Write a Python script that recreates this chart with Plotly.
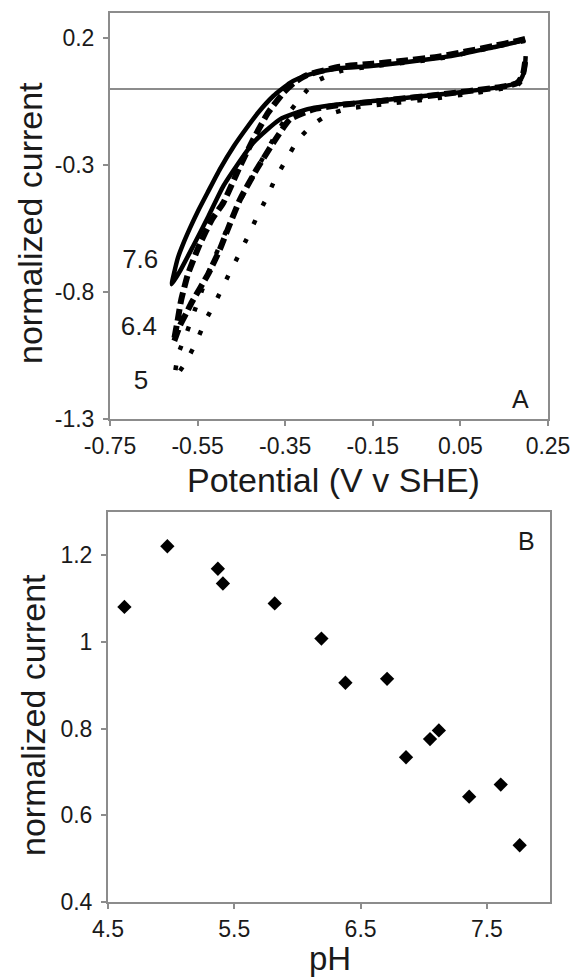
import plotly.graph_objects as go

W, H = 580, 979

# ---------------- Panel A data (cyclic voltammograms) ----------------
# path: upper branch (right -> left), down to the switching tip, then lower branch back to the right
E_76 = [0.197, 0.18, 0.125, 0.05, 0.0, -0.08, -0.16, -0.225, -0.28, -0.32, -0.339, -0.377, -0.412, -0.441,
        -0.467, -0.499, -0.527, -0.549, -0.568, -0.583, -0.595, -0.603, -0.609,
        -0.588, -0.56, -0.525, -0.491, -0.423, -0.362, -0.301, -0.225, -0.15, -0.05, 0.05, 0.14, 0.175,
        0.19, 0.197, 0.199]
I_76 = [0.196, 0.186, 0.165, 0.137, 0.123, 0.105, 0.09, 0.082, 0.065, 0.042, 0.025, -0.027, -0.093, -0.16,
        -0.224, -0.315, -0.407, -0.48, -0.55, -0.61, -0.665, -0.72, -0.769,
        -0.71, -0.618, -0.5, -0.381, -0.211, -0.119, -0.08, -0.06, -0.047, -0.03, -0.012, 0.008, 0.022,
        0.045, 0.085, 0.13]

E_64 = [0.198, 0.18, 0.125, 0.0, -0.08, -0.15, -0.225, -0.301, -0.33, -0.354, -0.389, -0.423, -0.453, -0.491,
        -0.517, -0.545, -0.572, -0.588, -0.595, -0.604,
        -0.59, -0.575, -0.563, -0.526, -0.499, -0.484, -0.453, -0.415, -0.377, -0.339, -0.286, -0.225,
        -0.15, 0.0, 0.14, 0.18, 0.193, 0.198]
I_64 = [0.198, 0.19, 0.17, 0.128, 0.112, 0.1, 0.088, 0.055, 0.025, -0.014, -0.093, -0.198, -0.303, -0.447,
        -0.513, -0.611, -0.729, -0.835, -0.906, -0.995,
        -0.93, -0.88, -0.839, -0.729, -0.631, -0.565, -0.434, -0.316, -0.211, -0.119, -0.08, -0.063,
        -0.05, -0.022, 0.008, 0.024, 0.06, 0.11]

E_5 = [0.198, 0.125, 0.0, -0.15, -0.225, -0.28, -0.305, -0.34, -0.375, -0.41, -0.45, -0.485, -0.52, -0.55,
       -0.575, -0.594, -0.602,
       -0.575, -0.552, -0.531, -0.506, -0.484, -0.461, -0.438, -0.417, -0.394, -0.373, -0.347, -0.32,
       -0.286, -0.25, -0.2, -0.1, 0.0, 0.14, 0.18, 0.195]
I_5 = [0.19, 0.165, 0.12, 0.09, 0.07, 0.03, -0.014, -0.09, -0.19, -0.3, -0.43, -0.56, -0.7, -0.84,
       -0.96, -1.044, -1.136,
       -1.07, -0.992, -0.909, -0.828, -0.749, -0.67, -0.591, -0.513, -0.434, -0.355, -0.276, -0.198,
       -0.139, -0.1, -0.075, -0.055, -0.035, 0.0, 0.015, 0.045]

curve_labels = ["7.6", "6.4", "5"]
label_E = [-0.681, -0.684, -0.679]
label_I = [-0.680, -0.942, -1.158]

xticks_A = [-0.75, -0.55, -0.35, -0.15, 0.05, 0.25]
xticktext_A = ["-0.75", "-0.55", "-0.35", "-0.15", "0.05", "0.25"]
yticks_A = [0.2, -0.3, -0.8, -1.3]
yticktext_A = ["0.2", "-0.3", "-0.8", "-1.3"]

# ---------------- Panel B data ----------------
pH = [4.63, 4.97, 5.37, 5.41, 5.82, 6.19, 6.38, 6.71, 6.86, 7.05, 7.12, 7.36, 7.61, 7.76]
current_B = [1.081, 1.221, 1.169, 1.135, 1.089, 1.008, 0.906, 0.915, 0.734, 0.776, 0.796, 0.643, 0.671, 0.531]
xticks_B = [4.5, 5.5, 6.5, 7.5]
xticktext_B = ["4.5", "5.5", "6.5", "7.5"]
yticks_B = [0.4, 0.6, 0.8, 1.0, 1.2]
yticktext_B = ["0.4", "0.6", "0.8", "1", "1.2"]


def px(x):
    return x / W


def py(y):
    return 1 - y / H


FONT = "Liberation Sans, Arial, sans-serif"
TXT = "#1a1a1a"
FRAME = "#8c8c8c"

fig = go.Figure()

fig.add_trace(go.Scatter(x=E_76, y=I_76, mode="lines", xaxis="x", yaxis="y",
                         line=dict(color="black", width=4.5, shape="spline", smoothing=0.5),
                         showlegend=False))
fig.add_trace(go.Scatter(x=E_64, y=I_64, mode="lines", xaxis="x", yaxis="y",
                         line=dict(color="black", width=6, dash="12px,5px", shape="spline", smoothing=0.5),
                         showlegend=False))
fig.add_trace(go.Scatter(x=E_5, y=I_5, mode="lines", xaxis="x", yaxis="y",
                         line=dict(color="black", width=4.5, dash="4.5px,16px", shape="spline", smoothing=0.5),
                         showlegend=False))
fig.add_trace(go.Scatter(x=label_E, y=label_I, mode="text", text=curve_labels, xaxis="x", yaxis="y",
                         textfont=dict(family=FONT, size=26, color=TXT), showlegend=False))

fig.add_trace(go.Scatter(x=pH, y=current_B, mode="markers", xaxis="x2", yaxis="y2",
                         marker=dict(symbol="diamond", size=11, color="black"), showlegend=False))

axis_common = dict(showline=True, linecolor=FRAME, linewidth=2, mirror=True, showgrid=False,
                   ticks="outside", ticklen=5, tickwidth=2, tickcolor=FRAME,
                   tickfont=dict(family=FONT, size=23, color=TXT))

fig.update_layout(
    width=W, height=H,
    margin=dict(l=0, r=0, t=0, b=0, autoexpand=False),
    paper_bgcolor="white", plot_bgcolor="white",
    xaxis=dict(domain=[px(110), px(548)], range=[-0.75, 0.25], tickvals=xticks_A,
               ticktext=xticktext_A, zeroline=False, anchor="y", **axis_common),
    yaxis=dict(domain=[py(419), py(13)], range=[-1.3, 0.3], tickvals=yticks_A,
               ticktext=yticktext_A, ticklabelstandoff=4,
               zeroline=True, zerolinecolor=FRAME, zerolinewidth=2, anchor="x", **axis_common),
    xaxis2=dict(domain=[px(108), px(550)], range=[4.5, 8.0], tickvals=xticks_B,
                ticktext=xticktext_B, zeroline=False, anchor="y2", **axis_common),
    yaxis2=dict(domain=[py(902), py(512)], range=[0.4, 1.3], tickvals=yticks_B,
                ticktext=yticktext_B, ticklabelstandoff=4, zeroline=False, anchor="x2", **axis_common),
)

ann = [
    dict(text="Potential (V v SHE)", x=px(333), y=py(480), size=34, angle=0),
    dict(text="normalized current", x=px(30), y=py(223), size=34, angle=-90),
    dict(text="pH", x=px(330), y=py(958), size=33, angle=0),
    dict(text="normalized current", x=px(33), y=py(715), size=34, angle=-90),
    dict(text="A", x=px(520), y=py(399), size=25, angle=0),
    dict(text="B", x=px(526), y=py(541), size=25, angle=0),
]
for a in ann:
    fig.add_annotation(text=a["text"], x=a["x"], y=a["y"], xref="paper", yref="paper",
                       xanchor="center", yanchor="middle", showarrow=False, textangle=a["angle"],
                       font=dict(family=FONT, size=a["size"], color=TXT))

fig.write_html("out.html")
